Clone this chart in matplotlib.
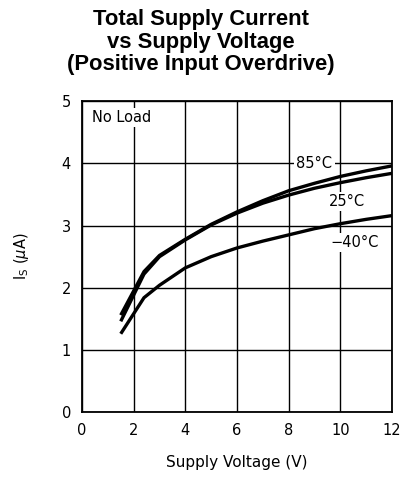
import matplotlib
matplotlib.use("Agg")
import matplotlib.pyplot as plt

vs = [1.5, 2.4, 3.0, 4.0, 5.0, 6.0, 7.0, 8.0, 9.0, 10.0, 11.0, 12.0]
i_85 = [1.56, 2.26, 2.52, 2.78, 3.02, 3.22, 3.40, 3.56, 3.68, 3.79, 3.88, 3.96]
i_25 = [1.46, 2.22, 2.50, 2.77, 3.01, 3.20, 3.36, 3.49, 3.60, 3.69, 3.77, 3.84]
i_m40 = [1.26, 1.84, 2.04, 2.32, 2.50, 2.64, 2.75, 2.85, 2.95, 3.03, 3.10, 3.16]

xticks = [0, 2, 4, 6, 8, 10, 12]
yticks = [0, 1, 2, 3, 4, 5]

plt.rcParams['font.family'] = ['DejaVu Sans']

fig = plt.figure(figsize=(4.02, 4.82), dpi=100)
ax = fig.add_axes([0.204, 0.145, 0.771, 0.645])

for y in i_85, i_25, i_m40:
    ax.plot(vs, y, color='black', lw=2.4, solid_capstyle='butt', zorder=3)

ax.set_xlim(0, 12)
ax.set_ylim(0, 5)
ax.set_xticks(xticks)
ax.set_yticks(yticks)
ax.set_xticklabels([str(t) for t in xticks])
ax.set_yticklabels([str(t) for t in yticks])
ax.tick_params(length=0, labelsize=10.5, pad=8)
ax.grid(True, color='black', lw=1.0)
for s in ax.spines.values():
    s.set_linewidth(1.3)

fs = 10.5
bb = dict(facecolor='white', edgecolor='none', pad=1.5)
ax.text(9.0, 4.0, '85°C', ha='center', va='center', fontsize=fs, bbox=bb, zorder=4)
ax.text(10.27, 3.39, '25°C', ha='center', va='center', fontsize=fs, bbox=bb, zorder=4)
ax.text(10.55, 2.73, '−40°C', ha='center', va='center', fontsize=fs, bbox=bb, zorder=4)
ax.text(0.39, 4.74, 'No Load', ha='left', va='center', fontsize=fs, bbox=bb, zorder=4)

ax.set_xlabel('Supply Voltage (V)', fontsize=11, labelpad=12)
ax.set_ylabel(r'I$_\mathregular{S}$ ($\mu$A)', fontsize=fs, labelpad=22)

fig.text(0.5, 1 - 9 / 482, 'Total Supply Current\nvs Supply Voltage\n(Positive Input Overdrive)',
         ha='center', va='top', fontsize=15.8, fontweight='bold', linespacing=1.1,
         family=['Liberation Sans'])

fig.savefig('out.png', dpi=100)
